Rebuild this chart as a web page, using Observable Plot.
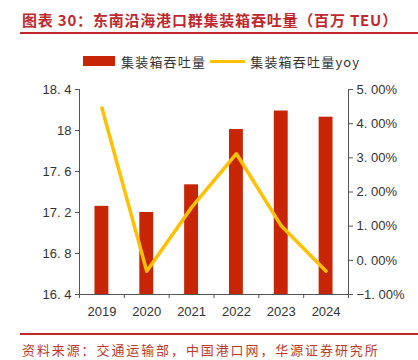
<!DOCTYPE html>
<html><head><meta charset="utf-8">
<script src="https://cdn.jsdelivr.net/npm/d3@7"></script>
<script src="https://cdn.jsdelivr.net/npm/@observablehq/plot@0.6"></script>
<style>
body{margin:0;background:#fff;width:418px;height:360px;position:relative;overflow:hidden;font-family:"Noto Sans CJK SC",sans-serif;}
#title{position:absolute;left:22px;top:10px;font-size:15px;font-weight:bold;color:#C0282D;white-space:nowrap;letter-spacing:0.8px;line-height:20px}
#rule1{position:absolute;left:20px;right:0;top:32px;height:2px;background:#C0282D}
#legend{position:absolute;top:50px;left:83px;display:flex;align-items:center;height:22px;font-size:13px;color:#333;letter-spacing:1.2px;white-space:nowrap}
#legend .sw{width:32px;height:10px;background:#C82506;margin-right:6px}
#legend .ln{width:35px;height:3px;background:#FFC000;margin:0 5px 0 4px}
#chart{position:absolute;left:0;top:70px}
#rule2{position:absolute;left:20px;right:0;top:333px;height:1.5px;background:#C0282D}
#source{position:absolute;left:22px;top:340px;font-size:13px;color:#C0392B;letter-spacing:1.9px;white-space:nowrap;line-height:20px}
</style></head>
<body>
<div id="title">图表 30：东南沿海港口群集装箱吞吐量（百万 TEU）</div>
<div id="rule1"></div>
<div id="legend"><div class="sw"></div><span>集装箱吞吐量</span><div class="ln"></div><span>集装箱吞吐量yoy</span></div>
<div id="chart"></div>
<div id="rule2"></div>
<div id="source">资料来源：交通运输部，中国港口网，华源证券研究所</div>
<script>
const years = [2019, 2020, 2021, 2022, 2023, 2024];
const throughput = [17.26, 17.20, 17.47, 18.01, 18.19, 18.13];
const yoy = [4.46, -0.32, 1.55, 3.12, 1.01, -0.32];
const leftTicks = [16.4, 16.8, 17.2, 17.6, 18.0, 18.4];
const rightTicks = [-1, 0, 1, 2, 3, 4, 5];

const rows = years.map((year, i) => ({year, throughput: throughput[i], yoy: yoy[i]}));
const toLeft = d3.scaleLinear([-1, 5], [16.4, 18.4]);
const bounds = years.map(y => y - 0.5).concat([years[years.length - 1] + 0.5]);
const half = 0.155;

const fmtLeft = v => {
  const r = Math.round(v * 10) / 10;
  return Number.isInteger(r) ? String(r) : r.toFixed(1).replace(".", ". ");
};
const fmtRight = v => {
  let r = Math.round(toLeft.invert(v) * 100) / 100;
  if (Object.is(r, -0)) r = 0;
  return r.toFixed(2).replace(".", ". ").replace("-", "\u2212") + "%";
};

const chart = Plot.plot({
  width: 418,
  height: 250,
  marginTop: 19,
  marginBottom: 26,
  marginLeft: 79,
  marginRight: 70,
  x: {type: "linear", domain: [bounds[0], bounds[bounds.length - 1]]},
  y: {domain: [16.4, 18.4]},
  style: {fontFamily: "'Liberation Sans', Arial, sans-serif", fontSize: "13px", color: "#333", background: "#fff"},
  marks: [
    Plot.rectY(rows, {x1: d => d.year - half, x2: d => d.year + half, y1: 16.4, y2: "throughput", fill: "#C82506"}),
    Plot.lineY(rows, {x: "year", y: d => toLeft(d.yoy), stroke: "#FFC000", strokeWidth: 3.5}),
    Plot.ruleX([bounds[0], bounds[bounds.length - 1]], {stroke: "#555"}),
    Plot.ruleY([16.4], {stroke: "#555"}),
    Plot.axisY({anchor: "left", ticks: leftTicks, tickFormat: fmtLeft, tickSize: 4, tickPadding: 4, label: null, stroke: "#555"}),
    Plot.axisY({anchor: "right", ticks: rightTicks.map(toLeft), tickFormat: fmtRight, tickSize: 4, tickPadding: 4, label: null, stroke: "#555"}),
    Plot.axisX({ticks: bounds, tickFormat: () => "", tickSize: 4, label: null, stroke: "#555"}),
    Plot.axisX({ticks: years, tickFormat: d => String(d), tickSize: 0, tickPadding: 12, label: null})
  ]
});
document.getElementById("chart").appendChild(chart);
</script>
</body></html>
